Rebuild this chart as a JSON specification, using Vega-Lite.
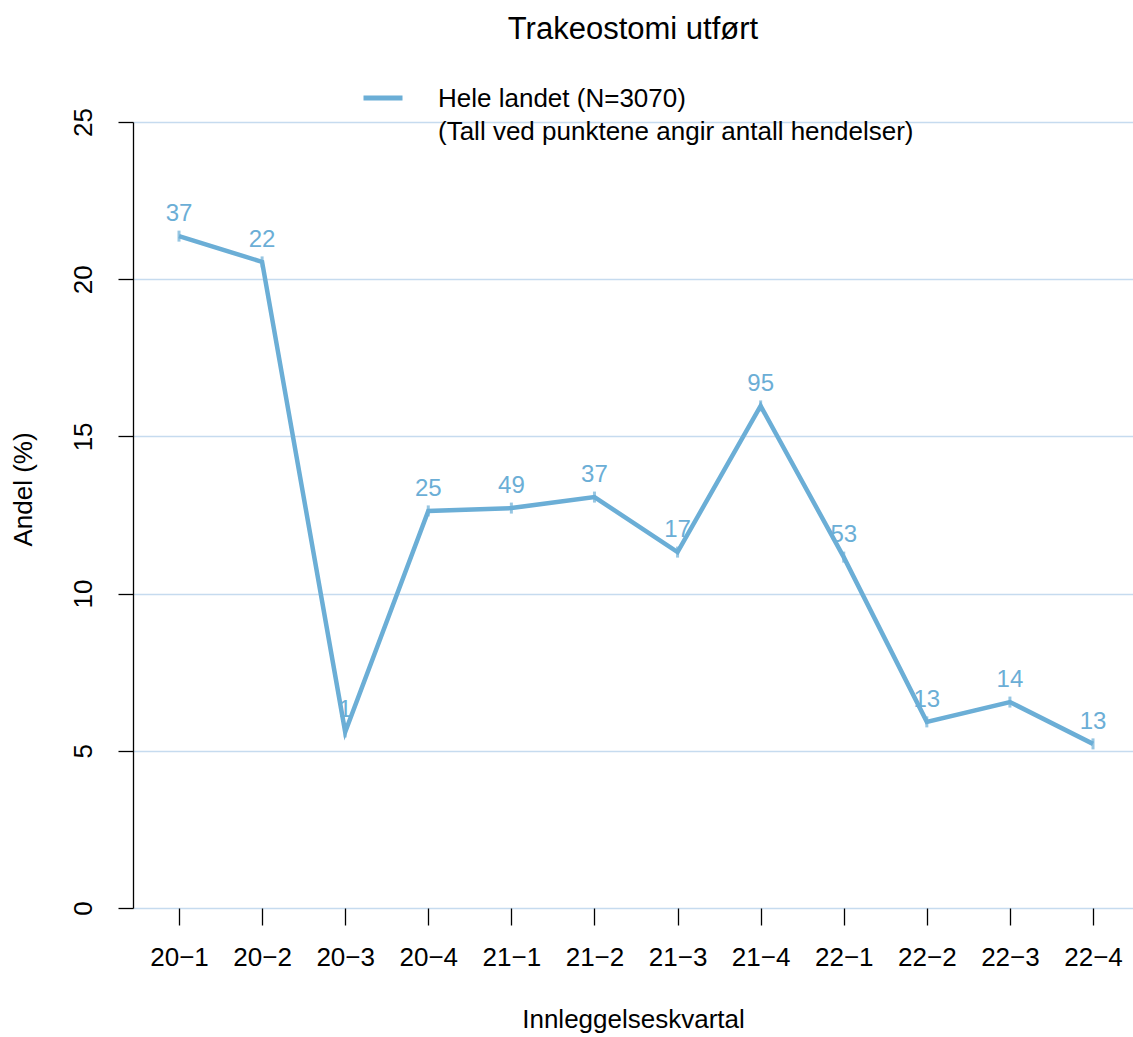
{
  "$schema": "https://vega.github.io/schema/vega-lite/v6.json",
  "width": 1000,
  "height": 786,
  "autosize": "none",
  "padding": {"left": 133, "top": 122, "right": 0, "bottom": 129},
  "config": {"font": "Liberation Sans", "view": {"stroke": null}},
  "title": {"text": "Trakeostomi utført", "fontSize": 31, "fontWeight": "normal", "color": "black", "anchor": "middle", "frame": "group", "offset": 39},
  "data": {
    "values": [
      {"q": "20−1", "andel": 21.37, "n": 37},
      {"q": "20−2", "andel": 20.55, "n": 22},
      {"q": "20−3", "andel": 5.6, "n": 1},
      {"q": "20−4", "andel": 12.63, "n": 25},
      {"q": "21−1", "andel": 12.72, "n": 49},
      {"q": "21−2", "andel": 13.07, "n": 37},
      {"q": "21−3", "andel": 11.32, "n": 17},
      {"q": "21−4", "andel": 15.97, "n": 95},
      {"q": "22−1", "andel": 11.16, "n": 53},
      {"q": "22−2", "andel": 5.92, "n": 13},
      {"q": "22−3", "andel": 6.55, "n": 14},
      {"q": "22−4", "andel": 5.22, "n": 13}
    ]
  },
  "encoding": {
    "x": {
      "field": "q", "type": "ordinal", "sort": null,
      "scale": {"type": "point", "padding": 0.5175, "align": 0.535},
      "axis": {"title": "Innleggelseskvartal", "titleFontSize": 26, "titleFontWeight": "normal", "titleColor": "black",
        "titleBaseline": "alphabetic", "titleY": 119,
        "labelFontSize": 26, "labelColor": "black", "labelAngle": 0, "labelPadding": 19,
        "tickSize": 17, "tickColor": "black", "tickWidth": 1.3, "domain": false, "grid": false}
    },
    "y": {
      "field": "andel", "type": "quantitative",
      "scale": {"domain": [0, 25], "nice": false, "zero": true},
      "axis": {"title": "Andel (%)", "titleFontSize": 26, "titleFontWeight": "normal", "titleColor": "black",
        "titleAngle": -90, "titleAlign": "center", "titleBaseline": "middle", "titleX": -110, "titleY": 367,
        "values": [0, 5, 10, 15, 20, 25], "labelFontSize": 26, "labelColor": "black", "labelAngle": -90, "labelAlign": "center", "labelBaseline": "bottom", "labelPadding": 22,
        "tickSize": 15, "tickColor": "black", "tickWidth": 1.3, "domainColor": "black", "domainWidth": 1.3,
        "grid": true, "gridColor": "#c6dbef", "gridWidth": 1.3}
    }
  },
  "layer": [
    {
      "mark": {"type": "line", "strokeWidth": 4.5, "strokeJoin": "miter"},
      "encoding": {
        "color": {"datum": "Hele landet (N=3070)", "type": "nominal",
          "scale": {"range": ["#6baed6"]},
          "legend": {"title": null, "orient": "none", "legendX": 228, "legendY": -37, "padding": 0,
            "symbolType": "M-1,-0.46H1", "symbolSize": 1521, "symbolStrokeWidth": 5, "labelOffset": 33,
            "labelFontSize": 26, "labelColor": "black", "labelBaseline": "alphabetic", "labelLimit": 0,
            "labelExpr": "['Hele landet (N=3070)', '(Tall ved punktene angir antall hendelser)']",
            "encode": {"labels": {"update": {"lineHeight": {"value": 33}}}}}
        }
      }
    },
    {
      "mark": {"type": "tick", "orient": "vertical", "size": 11, "thickness": 3, "color": "#6baed6"}
    },
    {
      "mark": {"type": "text", "dy": -22, "fontSize": 24, "color": "#6baed6"},
      "encoding": {"text": {"field": "n", "type": "quantitative"}}
    }
  ]
}
